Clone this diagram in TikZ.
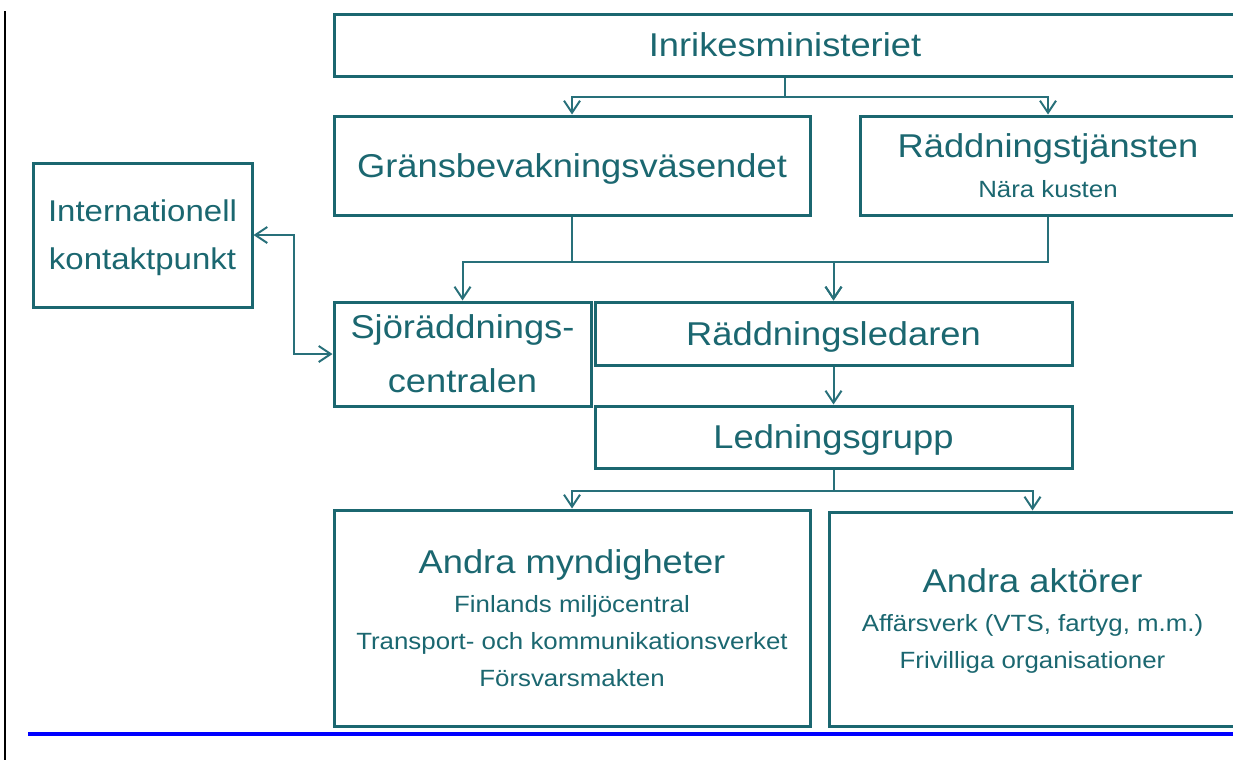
\documentclass[tikz,border=0pt]{standalone}
\usepackage{fontspec}
\setmainfont{Liberation Sans}[FakeStretch=1.1]
\usetikzlibrary{arrows.meta}
\definecolor{boxteal}{RGB}{27,103,112}
\definecolor{lineteal}{RGB}{40,112,122}
\newcommand\titlef{\fontsize{16.5}{20}\selectfont}
\newcommand\subf{\fontsize{11.75}{18.5}\selectfont}

\begin{document}
\begin{tikzpicture}[x=0.5pt, y=-0.5pt,
  >={Straight Barb[length=6pt,width=8pt]},
  box/.style={draw=boxteal, line width=1.5pt, text=boxteal, align=center,
    inner sep=0pt, text depth=0pt, font=\titlef},
  conn/.style={draw=lineteal, line width=1pt, ->}]
  \useasboundingbox (0,0) rectangle (1233,760);
  \clip (0,0) rectangle (1233,760);
  % page rules
  \draw[line width=1pt] (5,11) -- (5,760);
  \draw[blue, line width=1.85pt] (28,734) -- (1233,734);
  % top level
  \node[box, minimum width=451pt, minimum height=31pt] (inrikes) at (785,45) {Inrikesministeriet};
  \node[box, minimum width=238pt, minimum height=49.5pt] (grans) at (572,165.5) {Gränsbevakningsväsendet};
  \node[box, minimum width=188pt, minimum height=49.5pt, font=\subf] (radd) at (1048,165.5)
    {{\titlef Räddningstjänsten}\\[1.5pt]Nära kusten};
  % middle level
  \node[box, minimum width=109.5pt, minimum height=72pt, font=\fontsize{15}{24}\selectfont] (intl) at (142.5,235)
    {Internationell\\kontaktpunkt};
  \node[box, minimum width=128.5pt, minimum height=52pt, font=\fontsize{16.5}{27}\selectfont] (sjo) at (462.5,354)
    {Sjöräddnings-\\centralen};
  \node[box, minimum width=238.5pt, minimum height=31.5pt] (ledare) at (833.5,333.5) {Räddningsledaren};
  \node[box, minimum width=238.5pt, minimum height=31pt] (grupp) at (833.5,437) {Ledningsgrupp};
  % bottom level
  \node[box, minimum width=238pt, minimum height=108pt, font=\subf] (mynd) at (572,618)
    {{\titlef Andra myndigheter}\\[1pt]Finlands miljöcentral\\Transport- och kommunikationsverket\\Försvarsmakten};
  \node[box, minimum width=203.5pt, minimum height=107pt, font=\subf] (aktor) at (1032.5,619)
    {{\titlef Andra aktörer}\\[1pt]Affärsverk (VTS, fartyg, m.m.)\\Frivilliga organisationer};
  % connectors
  \draw[conn] (inrikes.south) -- ++(0,19) -| (grans.north);
  \draw[conn] (inrikes.south) -- ++(0,19) -| (radd.north);
  \draw[conn] (grans.south) -- ++(0,45) -| (sjo.north);
  \draw[conn] (grans.south) -- ++(0,45) -| (ledare.north);
  \draw[conn] (radd.south) -- ++(0,45) -| (ledare.north);
  \draw[conn] (ledare) -- (grupp);
  \draw[conn] (grupp.south) -- ++(0,21) -| (mynd.north);
  \draw[conn] (grupp.south) -- ++(0,21) -| (aktor.north);
  \draw[conn,<->] (intl.east) -- ++(40,0) |- (sjo.west);
\end{tikzpicture}
\end{document}
